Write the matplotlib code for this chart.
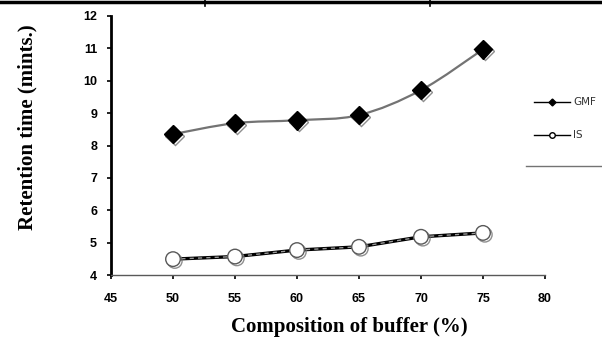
import matplotlib.pyplot as plt
import matplotlib.patheffects as pe
from matplotlib.path import Path
from matplotlib.patches import PathPatch
from matplotlib.lines import Line2D
import numpy as np

buffer_pct = [50, 55, 60, 65, 70, 75]
gmf = [8.35, 8.69, 8.78, 8.94, 9.71, 10.97]
is_ = [4.49, 4.57, 4.77, 4.87, 5.18, 5.3]

x_ticks = [45, 50, 55, 60, 65, 70, 75, 80]
y_ticks = [4, 5, 6, 7, 8, 9, 10, 11, 12]


def smooth_path(xs, ys):
    # catmull-rom style bezier through the points (like a "smoothed line")
    xs = np.asarray(xs, float)
    ys = np.asarray(ys, float)
    verts = [(xs[0], ys[0])]
    codes = [Path.MOVETO]
    n = len(xs)
    for i in range(n - 1):
        p0 = np.array([xs[max(i - 1, 0)], ys[max(i - 1, 0)]])
        p1 = np.array([xs[i], ys[i]])
        p2 = np.array([xs[i + 1], ys[i + 1]])
        p3 = np.array([xs[min(i + 2, n - 1)], ys[min(i + 2, n - 1)]])
        c1 = p1 + (p2 - p0) / 6
        c2 = p2 - (p3 - p1) / 6
        verts += [tuple(c1), tuple(c2), tuple(p2)]
        codes += [Path.CURVE4] * 3
    return Path(verts, codes)


W, H = 602, 341
fig = plt.figure(figsize=(W / 100, H / 100), dpi=100)
ax = fig.add_axes([111 / W, 1 - 275 / H, 434 / W, 259 / H])

shadow = [pe.SimpleLineShadow(offset=(1.3, -1.3), shadow_color="0.45", alpha=0.8), pe.Normal()]

# GMF - smoothed grey line with black diamonds
ax.add_patch(PathPatch(smooth_path(buffer_pct, gmf), fill=False, ec="0.45", lw=1.6, zorder=2))
ax.plot(buffer_pct, gmf, ls="none", marker="D", ms=9.5, mfc="black", mec="black",
        zorder=3, path_effects=shadow)

# IS - heavy dashed line with open circles
ax.plot(buffer_pct, is_, color="black", lw=2.4, zorder=2)
ax.plot(buffer_pct, is_, color="0.6", lw=1.0, ls=(0, (3, 3)), zorder=2)
ax.plot(buffer_pct, is_, ls="none", marker="o", ms=10.5, mfc="white", mec="0.35", mew=1.0,
        zorder=3, path_effects=shadow)

ax.set_xlim(45, 80)
ax.set_ylim(4, 12)
ax.set_xticks(x_ticks)
ax.set_yticks(y_ticks)
ax.set_xticklabels([str(v) for v in x_ticks], fontsize=9, fontweight="bold", family="Liberation Sans")
ax.set_yticklabels([str(v) for v in y_ticks], fontsize=9, fontweight="bold", family="Liberation Sans")
ax.tick_params(axis="both", length=3, width=1.2, color="black", pad=7)
ax.tick_params(axis="x", pad=10)

for s in ["top", "right"]:
    ax.spines[s].set_visible(False)
ax.spines["left"].set_linewidth(2.0)
ax.spines["bottom"].set_linewidth(1.0)
ax.spines["bottom"].set_color("0.35")

fig.text(27 / W, 1 - 127 / H, "Retention time (mints.)", fontsize=15, fontweight="bold",
         family="Liberation Serif", rotation=90, ha="center", va="center")
fig.text(349 / W, 1 - 327 / H, "Composition of buffer (%)", fontsize=15, fontweight="bold",
         family="Liberation Serif", ha="center", va="center")

# legend on the right
fig.add_artist(Line2D([534 / W, 552 / W, 570 / W], [1 - 102 / H] * 3, color="black", lw=1.0,
                      marker="D", ms=3.5, markevery=[1], mfc="black"))
fig.add_artist(Line2D([534 / W, 552 / W, 570 / W], [1 - 135 / H] * 3, color="black",
                      lw=1.0, marker="o", ms=4, markevery=[1], mfc="white"))
fig.text(573 / W, 1 - 102 / H, "GMF", fontsize=7.5, va="center", color="0.2")
fig.text(573 / W, 1 - 135 / H, "IS", fontsize=7.5, va="center", color="0.2")
fig.add_artist(Line2D([526 / W, 1.0], [1 - 166 / H] * 2, color="0.45", lw=1.0))

# border of the surrounding table
fig.add_artist(Line2D([0, 1], [1 - 1.5 / H] * 2, color="black", lw=2.5))
fig.add_artist(Line2D([205 / W] * 2, [1, 1 - 6 / H], color="black", lw=1.2))
fig.add_artist(Line2D([430 / W] * 2, [1, 1 - 6 / H], color="black", lw=1.2))

fig.savefig("out.png", dpi=100)
